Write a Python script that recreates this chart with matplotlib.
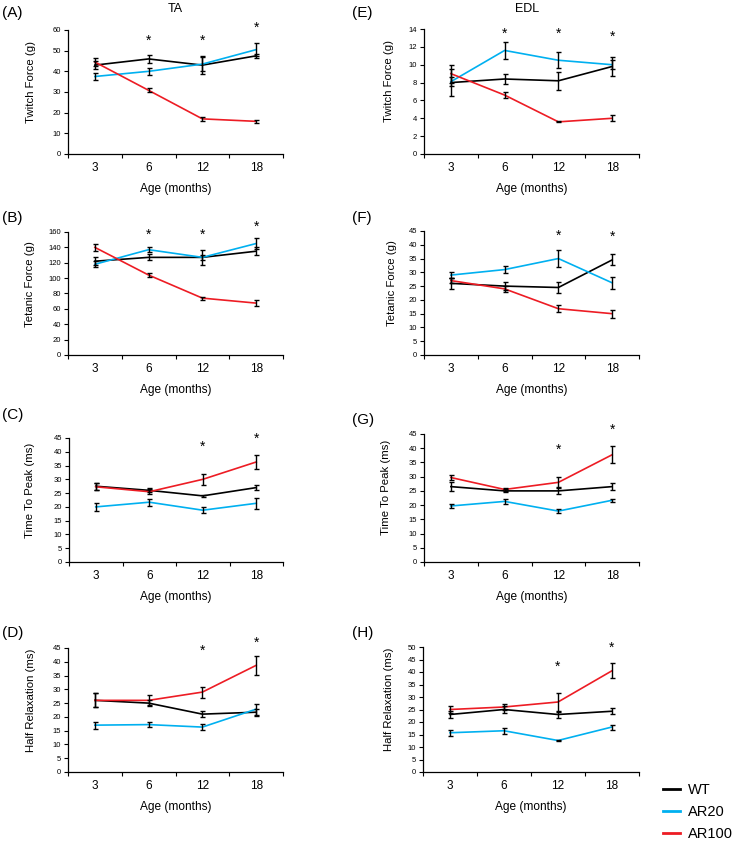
import matplotlib.pyplot as plt
from matplotlib.lines import Line2D

plt.rcParams['font.family'] = ['Liberation Sans', 'DejaVu Sans']

ages = ['3', '6', '12', '18']
groups = ['WT', 'AR20', 'AR100']
colors = ['#000000', '#00B0F0', '#ED1C24']

# Twitch force TA (g)
twitch_ta = [[43.0, 46.0, 43.0, 47.5], [37.5, 40.0, 43.5, 50.5], [44.5, 30.8, 17.0, 15.8]]
twitch_ta_err = [[1.8, 1.8, 4.2, 1.0], [1.8, 1.7, 3.5, 3.2], [2.0, 1.0, 0.8, 0.8]]
twitch_ta_stars = [None, 55.0, 55.0, 61.0]

# Twitch force EDL (g)
twitch_edl = [[8.0, 8.4, 8.2, 9.8], [8.1, 11.6, 10.5, 10.0], [9.0, 6.6, 3.6, 4.0]]
twitch_edl_err = [[1.5, 0.6, 1.0, 1.1], [0.5, 1.0, 0.9, 0.5], [1.0, 0.3, 0.05, 0.35]]
twitch_edl_stars = [None, 13.5, 13.5, 13.1]

# Tetanic force TA (g)
tetanic_ta = [[122, 127, 127, 135], [118, 137, 127, 145], [140, 104, 74, 67.5]]
tetanic_ta_err = [[5, 4, 10, 5], [4, 3, 3, 7], [5, 3, 2, 4]]
tetanic_ta_stars = [None, 156.5, 156.5, 166.5]

# Tetanic force EDL (g)
tetanic_edl = [[26.0, 25.0, 24.5, 34.5], [29.0, 31.0, 35.0, 26.2], [27.0, 24.0, 16.8, 15.0]]
tetanic_edl_err = [[2.0, 1.5, 2.0, 2.0], [1.0, 1.3, 3.0, 2.2], [1.0, 1.0, 1.2, 1.5]]
tetanic_edl_stars = [None, None, 43.4, 42.8]

# Time to peak TA (ms)
ttp_ta = [[27.5, 26.0, 24.0, 27.0], [20.0, 21.7, 18.8, 21.3], [27.3, 25.5, 30.0, 36.3]]
ttp_ta_err = [[1.2, 0.7, 0.3, 1.0], [1.4, 1.2, 1.0, 2.0], [1.2, 1.0, 2.0, 2.5]]
ttp_ta_stars = [None, None, 41.7, 44.7]

# Time to peak EDL (ms)
ttp_edl = [[26.5, 25.0, 25.0, 26.5], [19.7, 21.3, 17.9, 21.7], [29.7, 25.5, 28.0, 37.7]]
ttp_edl_err = [[1.5, 0.5, 1.2, 1.2], [0.6, 1.0, 0.8, 0.5], [1.0, 0.6, 2.0, 3.0]]
ttp_edl_stars = [None, None, 39.6, 46.4]

# Half relaxation TA (ms)
hr_ta = [[26.0, 25.0, 21.0, 21.7], [17.0, 17.2, 16.3, 22.8], [26.0, 26.0, 29.0, 38.7]]
hr_ta_err = [[2.5, 1.2, 1.0, 1.3], [1.3, 1.0, 1.0, 2.0], [2.5, 1.8, 2.0, 3.5]]
hr_ta_stars = [None, None, 43.9, 46.8]

# Half relaxation EDL (ms)
hr_edl = [[23.0, 25.0, 23.0, 24.3], [15.7, 16.5, 12.6, 18.0], [25.0, 26.0, 28.0, 40.5]]
hr_edl_err = [[1.3, 1.5, 1.2, 1.2], [1.2, 1.3, 0.3, 1.0], [1.3, 1.2, 3.5, 3.0]]
hr_edl_stars = [None, None, 42.0, 49.6]

panels = [
    ('(A)', 'Twitch Force (g)', twitch_ta, twitch_ta_err, twitch_ta_stars, 60, 10),
    ('(E)', 'Twitch Force (g)', twitch_edl, twitch_edl_err, twitch_edl_stars, 14, 2),
    ('(B)', 'Tetanic Force (g)', tetanic_ta, tetanic_ta_err, tetanic_ta_stars, 160, 20),
    ('(F)', 'Tetanic Force (g)', tetanic_edl, tetanic_edl_err, tetanic_edl_stars, 45, 5),
    ('(C)', 'Time To Peak (ms)', ttp_ta, ttp_ta_err, ttp_ta_stars, 45, 5),
    ('(G)', 'Time To Peak (ms)', ttp_edl, ttp_edl_err, ttp_edl_stars, 45, 5),
    ('(D)', 'Half Relaxation (ms)', hr_ta, hr_ta_err, hr_ta_stars, 45, 5),
    ('(H)', 'Half Relaxation (ms)', hr_edl, hr_edl_err, hr_edl_stars, 50, 5),
]

W, H = 736, 842
fig = plt.figure(figsize=(W / 100, H / 100), dpi=100)

# axes boxes in pixels: left, top, right, bottom
boxes = [
    (68, 30, 283, 154), (424, 29, 639, 154),
    (68, 232, 283, 355), (424, 231, 639, 355),
    (69, 438, 283, 562), (424, 434, 639, 562),
    (68, 648, 283, 772), (423, 647, 639, 772),
]
# panel letter positions (px) and y label centre x (px)
tag_pos = [(2, 13), (352, 13), (2, 218), (352, 218),
           (2, 415), (352, 420), (2, 633), (352, 633)]
ylab_x = [31, 389, 30, 392, 30, 386, 31, 389]

x = [1, 2, 3, 4]
for i, (tag, ylabel, means, errs, stars, ymax, ystep) in enumerate(panels):
    l, t, r, b = boxes[i]
    ax = fig.add_axes([l / W, 1 - b / H, (r - l) / W, (b - t) / H])
    for m, e, c in zip(means, errs, colors):
        ax.plot(x, m, color=c, lw=1.2, zorder=2)
        ax.errorbar(x, m, yerr=e, fmt='none', ecolor='black', elinewidth=1.0,
                    capsize=1.8, capthick=1.0, zorder=3)
    for xi, s in zip(x, stars):
        if s is not None:
            ax.text(xi, s, '*', ha='center', va='center', fontsize=10, clip_on=False)
    ax.set_xlim(0.5, 4.5)
    ax.set_ylim(0, ymax)
    ax.set_yticks(range(0, ymax + 1, ystep))
    ax.set_xticks([0.5, 1.5, 2.5, 3.5, 4.5])
    ax.set_xticklabels([])
    ax.set_xticks(x, minor=True)
    ax.set_xticklabels(ages, minor=True, fontsize=8.5)
    ax.tick_params(axis='x', which='minor', length=0, pad=6)
    ax.tick_params(axis='x', which='major', length=3, direction='out', width=0.8)
    ax.tick_params(axis='y', length=3, direction='out', width=0.8, labelsize=5.5, pad=2)
    for sp in ['top', 'right']:
        ax.spines[sp].set_visible(False)
    for sp in ['left', 'bottom']:
        ax.spines[sp].set_linewidth(0.9)
    ax.set_ylabel(ylabel, fontsize=8.2, va='center')
    ax.yaxis.set_label_coords((ylab_x[i] - l) / (r - l), 0.58)
    ax.set_xlabel('Age (months)', fontsize=8.6, labelpad=6)
    fig.text(tag_pos[i][0] / W, 1 - tag_pos[i][1] / H, tag, fontsize=11, va='center', ha='left')

fig.text(175 / W, 1 - 9 / H, 'TA', fontsize=9, ha='center', va='center')
fig.text(527 / W, 1 - 9 / H, 'EDL', fontsize=9, ha='center', va='center')

handles = [Line2D([], [], color=c, lw=2) for c in colors]
fig.legend(handles, groups, loc='lower left', bbox_to_anchor=(660 / W, -2 / H),
           frameon=False, fontsize=10.5, handlelength=1.16, handletextpad=0.55,
           labelspacing=0.55, borderpad=0.2, borderaxespad=0)

fig.savefig('out.png', dpi=100)
